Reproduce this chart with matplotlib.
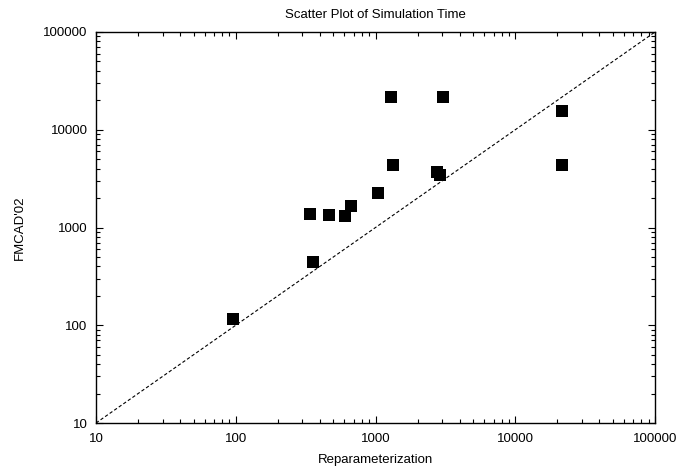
import matplotlib
matplotlib.use("Agg")
import matplotlib.pyplot as plt
from matplotlib.ticker import LogLocator, FixedLocator, NullFormatter, FixedFormatter

plt.rcParams['font.family'] = ['Liberation Sans', 'DejaVu Sans']

reparam = [95, 359, 340, 467, 603, 664, 1037, 1285, 1327, 3027, 2743, 2897, 21600, 21600]
fmcad   = [116, 444, 1374, 1343, 1321, 1660, 2270, 21800, 4395, 21800, 3675, 3444, 15670, 4395]
ticks = [10, 100, 1000, 10000, 100000]
tick_labels = ['10', '100', '1000', '10000', '100000']

fig = plt.figure(figsize=(6.82, 4.70), dpi=100)
ax = fig.add_axes([96/682, 47/470, 559/682, 391/470])
ax.set_xscale('log')
ax.set_yscale('log')
ax.set_xlim(ticks[0], ticks[-1])
ax.set_ylim(ticks[0], ticks[-1])

ax.plot([ticks[0], ticks[-1]], [ticks[0], ticks[-1]], color='black', lw=0.8,
        linestyle=(0, (3, 2)))
ax.plot(reparam, fmcad, linestyle='none', marker='s', markersize=8.6,
        color='black', markeredgewidth=0)

for axis in (ax.xaxis, ax.yaxis):
    axis.set_major_locator(FixedLocator(ticks))
    axis.set_major_formatter(FixedFormatter(tick_labels))
    axis.set_minor_locator(LogLocator(base=10, subs=range(2, 10)))
    axis.set_minor_formatter(NullFormatter())

ax.tick_params(which='both', direction='in', top=True, right=True, labelsize=9.5)
ax.tick_params(which='major', length=5, width=0.8)
ax.tick_params(which='minor', length=3, width=0.8)
ax.tick_params(axis='x', which='major', pad=7)
ax.tick_params(axis='y', which='major', pad=6)
for s in ax.spines.values():
    s.set_linewidth(1.0)

ax.set_title('Scatter Plot of Simulation Time', fontsize=9.5, pad=10)
ax.set_xlabel('Reparameterization', fontsize=9.5, labelpad=6.5)
ax.set_ylabel("FMCAD'02", fontsize=9.5, labelpad=12.5)

fig.savefig('out.png', dpi=100)
